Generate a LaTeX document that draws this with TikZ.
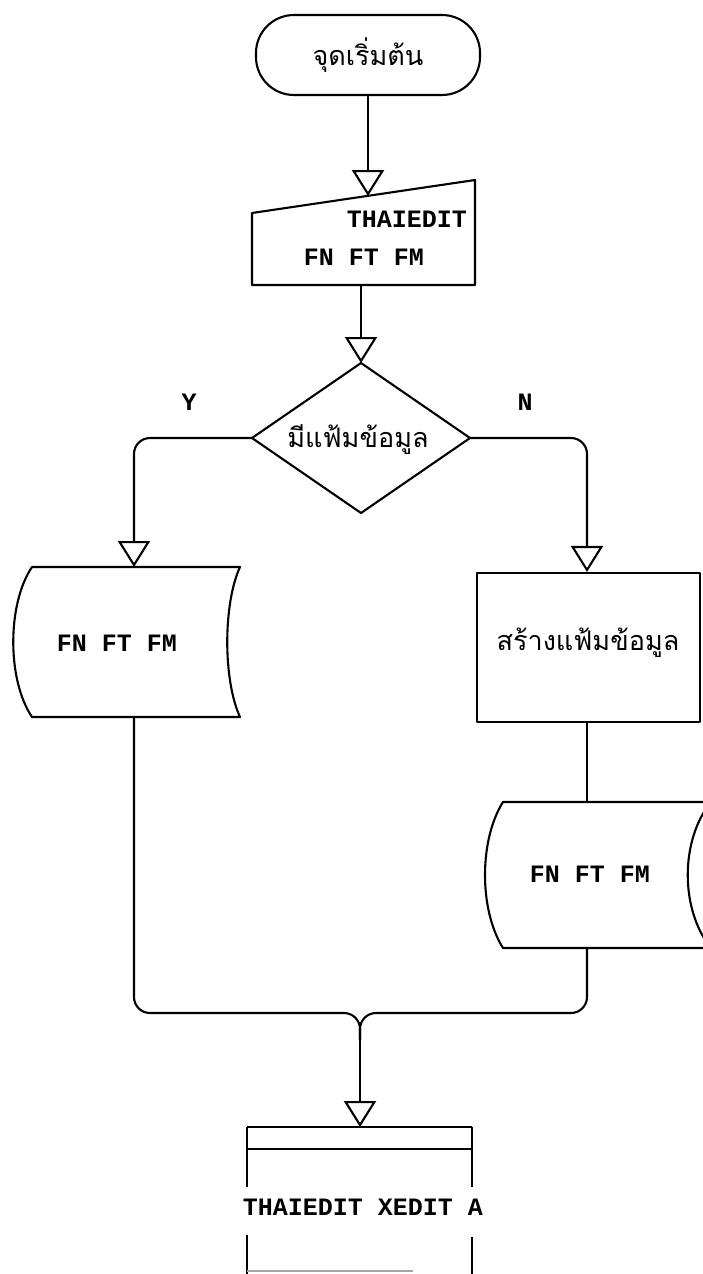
\documentclass[tikz,border=0pt]{standalone}
\usepackage{fontspec}
\newfontfamily\thaifont[Script=Thai]{Loma}
\setmonofont{Liberation Mono}
\usetikzlibrary{arrows.meta,shapes.geometric}
\tikzset{
  ln/.style={line width=2.1pt, line join=round},
  flow/.style={ln, -{Triangle[open, length=26pt, width=32pt, line width=2.1pt]}},
  th/.style={font=\thaifont\fontsize{27}{30}\selectfont, inner sep=0pt},
  lat/.style={font=\ttfamily\bfseries\fontsize{25}{28}\selectfont, inner sep=0pt},
  ghost/.style={inner sep=0pt, outer sep=0pt, draw=none}
}
\begin{document}
\begin{tikzpicture}[x=1pt, y=-1pt]
\useasboundingbox (0,0) rectangle (702,1274);
% start terminator
\node[ln, draw, rounded corners=38pt, minimum width=224pt, minimum height=80pt, th] (start) at (368,55) {จุดเริ่มต้น};
% manual input
\coordinate (intop) at (368,196);
\draw[ln] (252,213) -- (475,180) -- (475,285) -- (252,285) -- cycle;
\node[ghost, minimum width=223pt, minimum height=1pt] (inbot) at (363.5,285) {};
\node[lat, anchor=east] (in1) at (467,219) {THAIEDIT};
\node[lat] (in2) at (364,257) {FN FT FM};
% decision
\node[ghost, minimum width=218pt, minimum height=150pt] (dec) at (361,438) {};
\draw[ln] (dec.north) -- (dec.east) -- (dec.south) -- (dec.west) -- cycle;
\node[th] (dectext) at (358,440) {มีแฟ้มข้อมูล};
\node[lat] (ylab) at (189,402) {Y};
\node[lat] (nlab) at (525,402) {N};
% left stored data
\draw[ln] (32,567) -- (240,567) .. controls (223,604) and (223,680) .. (240,717) -- (32,717) .. controls (7,680) and (7,604) .. (32,567) -- cycle;
\node[ghost, minimum width=208pt, minimum height=150pt] (lstore) at (134,642) {};
\node[lat] (ltext) at (117,643) {FN FT FM};
% process rectangle
\node[ln, draw, minimum width=223pt, minimum height=149pt, inner sep=0pt] (proc) at (588.5,647.5) {};
\node[th] (ptext) at (588,643) {สร้างแฟ้มข้อมูล};
% right stored data
\draw[ln] (503,802) -- (711,802) .. controls (680,840) and (680,910) .. (711,948) -- (503,948) .. controls (479,910) and (479,840) .. (503,802) -- cycle;
\node[ghost, minimum width=208pt, minimum height=146pt] (rstore) at (607,875) {};
\node[lat] (rtext) at (590,874) {FN FT FM};
% bottom box
\coordinate (merge) at (360,1013);
\coordinate (mergelow) at (360,1029);
\coordinate (bottop) at (360,1127);
\draw[ln] (247,1127) -- (472,1127);
\draw[ln] (247,1149) -- (472,1149);
\draw[ln] (247,1127) -- (247,1187);
\draw[ln] (472,1127) -- (472,1187);
\draw[ln] (247,1235) -- (247,1274);
\draw[ln] (472,1237) -- (472,1274);
\draw[ln, black!35] (247,1271) -- (413,1271);
\node[lat] (btext) at (363,1207) {THAIEDIT XEDIT A};
% connectors
\draw[flow] (start.south) -- (intop);
\draw[flow] (inbot.south -| 361,0) -- (dec.north);
\draw[flow, rounded corners=16pt] (dec.west) -| (lstore.north);
\draw[flow, rounded corners=16pt] (dec.east) -| (proc.north -| 587,0);
\draw[ln] (proc.south -| 587,0) -- (587,802);
\draw[ln, rounded corners=16pt] (lstore.south) |- (merge) -- (360,1040);
\draw[ln, rounded corners=16pt] (587,948) |- (merge) -- (360,1040);
\draw[flow] (mergelow) -- (bottop);
\end{tikzpicture}
\end{document}
